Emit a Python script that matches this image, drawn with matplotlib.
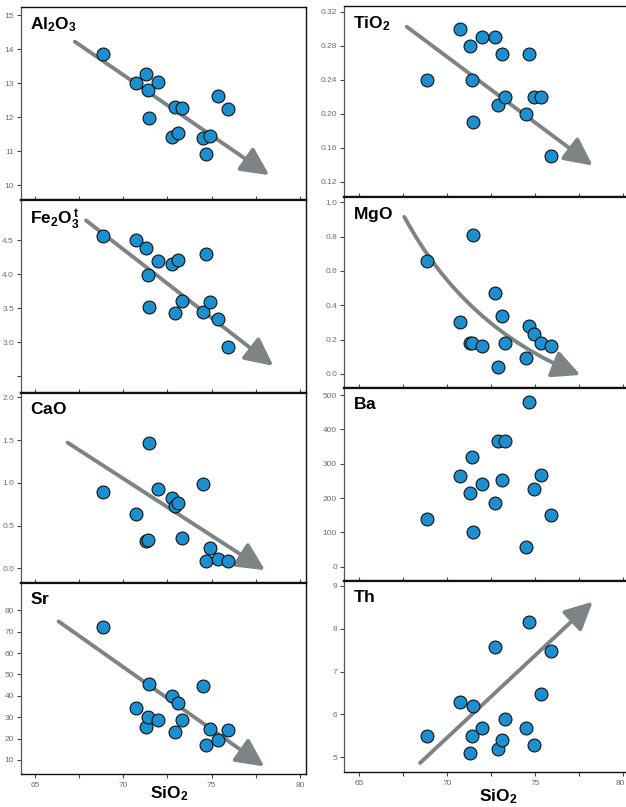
import matplotlib
matplotlib.use("Agg")
import matplotlib.pyplot as plt
from matplotlib.ticker import MultipleLocator, FuncFormatter

plt.rcParams["font.family"] = ["Liberation Sans", "DejaVu Sans"]
plt.rcParams["mathtext.fontset"] = "custom"
plt.rcParams["mathtext.rm"] = "Liberation Sans:bold"
plt.rcParams["mathtext.it"] = "Liberation Sans:bold"
plt.rcParams["mathtext.bf"] = "Liberation Sans:bold"
plt.rcParams["mathtext.default"] = "rm"

# SiO2 (wt%) of the 15 samples, shared by every panel
SIO2 = [68.85, 70.72, 71.30, 71.42, 71.48, 71.97, 72.75, 72.90,
        73.10, 73.30, 74.50, 74.68, 74.92, 75.35, 75.90]

AL2O3 = [13.87, 13.01, 13.28, 12.81, 11.96, 13.03, 11.40, 12.30,
         11.54, 12.27, 11.37, 10.91, 11.44, 12.63, 12.25]
TIO2 = [0.24, 0.30, 0.28, 0.24, 0.19, 0.29, 0.29, 0.21,
        0.27, 0.22, 0.20, 0.27, 0.22, 0.22, 0.15]
FE2O3 = [4.56, 4.50, 4.39, 3.99, 3.51, 4.19, 4.15, 3.43,
         4.21, 3.60, 3.44, 4.30, 3.59, 3.34, 2.92]
MGO = [0.66, 0.30, 0.18, 0.18, 0.81, 0.16, 0.47, 0.04,
       0.34, 0.18, 0.09, 0.28, 0.23, 0.18, 0.16]
CAO = [0.89, 0.64, 0.32, 0.33, 1.47, 0.93, 0.82, 0.73,
       0.76, 0.36, 0.99, 0.09, 0.24, 0.11, 0.09]
BA = [138, 264, 216, 319, 100, 240, 185, 365,
      253, 366, 56, 479, 226, 266, 151]
SR = [72.0, 34.1, 25.6, 30.3, 45.3, 28.8, 40.0, 23.0,
      36.6, 28.8, 44.8, 17.0, 24.4, 19.1, 24.1]
TH = [5.49, 6.29, 5.10, 5.49, 6.19, 5.69, 7.57, 5.19,
      5.41, 5.90, 5.69, 8.16, 5.29, 6.48, 7.47]

# trend arrows: (x0, y0) -> (x1, y1), curvature
ARROWS = {
    "Al2O3": ((67.26, 14.22), (78.26, 10.29), 0.0),
    "TiO2": ((67.72, 0.3025), (78.28, 0.139), 0.0),
    "Fe2O3": ((67.89, 4.79), (78.49, 2.65), 0.0),
    "MgO": ((67.58, 0.914), (77.58, -0.006), 0.18),
    "CaO": ((66.85, 1.47), (78.02, -0.02), 0.0),
    "Sr": ((66.34, 74.8), (77.98, 6.9), 0.0),
    "Th": ((68.47, 4.87), (78.28, 8.63), 0.0),
}

W, H = 626, 807
DOT = "#1b8fcf"
ARROW = "#7e8385"
TICKGREY = "#6e6e6e"

# name, label, values, column, (top px, bottom px), ylim, yticks, tick labels
PANELS = [
    ("Al2O3", r"$Al_2O_3$", AL2O3, 0, (7, 200), (9.56, 15.24),
     [10, 11, 12, 13, 14, 15], None),
    ("Fe2O3", r"$Fe_2O_3^{\,t}$", FE2O3, 0, (200, 393), (2.25, 5.09),
     [2.5, 3.0, 3.5, 4.0, 4.5], ["", "3.0", "3.5", "4.0", "4.5"]),
    ("CaO", r"$CaO$", CAO, 0, (393, 583), (-0.17, 2.05),
     [0.0, 0.5, 1.0, 1.5, 2.0], ["0.0", "0.5", "1.0", "1.5", "2.0"]),
    ("Sr", r"$Sr$", SR, 0, (583, 774), (3.4, 92.8),
     [10, 20, 30, 40, 50, 60, 70, 80], None),
    ("TiO2", r"$TiO_2$", TIO2, 1, (6, 197), (0.102, 0.327),
     [0.12, 0.16, 0.20, 0.24, 0.28, 0.32],
     ["0.12", "0.16", "0.20", "0.24", "0.28", "0.32"]),
    ("MgO", r"$MgO$", MGO, 1, (197, 388), (-0.082, 1.03),
     [0.0, 0.2, 0.4, 0.6, 0.8, 1.0], ["0.0", "0.2", "0.4", "0.6", "0.8", "1.0"]),
    ("Ba", r"$Ba$", BA, 1, (388, 581), (-42, 521),
     [0, 100, 200, 300, 400, 500], None),
    ("Th", r"$Th$", TH, 1, (581, 772), (4.66, 9.11),
     [5, 6, 7, 8, 9], None),
]

COLS = {0: (21, 306, (64.21, 80.34)), 1: (344, 626, (64.15, 80.17))}

fig = plt.figure(figsize=(W / 100, H / 100), dpi=100)

for name, label, vals, col, (top, bot), ylim, yticks, ylabels in PANELS:
    left, right, xlim = COLS[col]
    ax = fig.add_axes([left / W, 1 - bot / H, (right - left) / W, (bot - top) / H])
    ax.set_xlim(*xlim)
    ax.set_ylim(*ylim)

    start, end, rad = ARROWS.get(name, (None, None, 0))
    if start is not None:
        ax.annotate(
            "", xy=end, xytext=start,
            arrowprops=dict(
                arrowstyle="-|>,head_length=0.85,head_width=0.42",
                mutation_scale=20, lw=2.8, color=ARROW,
                shrinkA=0, shrinkB=0,
                connectionstyle=f"arc3,rad={rad}",
            ),
            zorder=2,
        )

    ax.scatter(SIO2, vals, s=86, c=DOT, edgecolors="#111111",
               linewidths=0.8, zorder=3)

    ax.annotate(label, xy=(0, 1), xycoords="axes fraction",
                xytext=(6.5, -6), textcoords="offset points",
                ha="left", va="top", fontsize=12.5)

    ax.set_yticks(yticks)
    if ylabels is not None:
        ax.set_yticklabels(ylabels)
    ax.tick_params(axis="y", direction="out", length=3, width=0.8,
                   color="#444444", labelsize=6, labelcolor=TICKGREY, pad=2)

    ax.xaxis.set_major_locator(MultipleLocator(5))
    ax.xaxis.set_minor_locator(MultipleLocator(2.5))
    bottom_panel = name in ("Sr", "Th")
    if bottom_panel:
        ax.tick_params(axis="x", which="both", direction="out", length=3,
                       width=0.8, color="#444444", labelsize=6,
                       labelcolor=TICKGREY, pad=3)
        if col == 1:
            # the 80 label sits on the figure edge: draw it right-aligned
            ax.xaxis.set_major_formatter(
                FuncFormatter(lambda v, p: "" if v >= 80 else f"{v:g}"))
            ax.annotate("80", xy=(80, 0), xycoords=("data", "axes fraction"),
                        xytext=(1.5, -6), textcoords="offset points",
                        ha="right", va="top", fontsize=6, color=TICKGREY,
                        annotation_clip=False)
    else:
        ax.tick_params(axis="x", which="both", direction="in", length=3,
                       width=0.8, color="#444444", labelbottom=False)

    ax.spines["left"].set_color("#555555")
    ax.spines["left"].set_linewidth(0.9)
    ax.spines["bottom"].set_color("#111111")
    ax.spines["bottom"].set_linewidth(1.0 if bottom_panel else 1.6)
    ax.spines["top"].set_color("#111111")
    ax.spines["top"].set_linewidth(1.6 if top > 10 else 1.0)
    ax.spines["right"].set_color("#111111")
    ax.spines["right"].set_linewidth(1.0)
    if col == 1:
        ax.spines["right"].set_visible(False)

fig.text(169 / W, 1 - 794 / H, r"$SiO_2$", ha="center", va="center", fontsize=12.5)
fig.text(498 / W, 1 - 797 / H, r"$SiO_2$", ha="center", va="center", fontsize=12.5)

fig.savefig("out.png", dpi=100)
